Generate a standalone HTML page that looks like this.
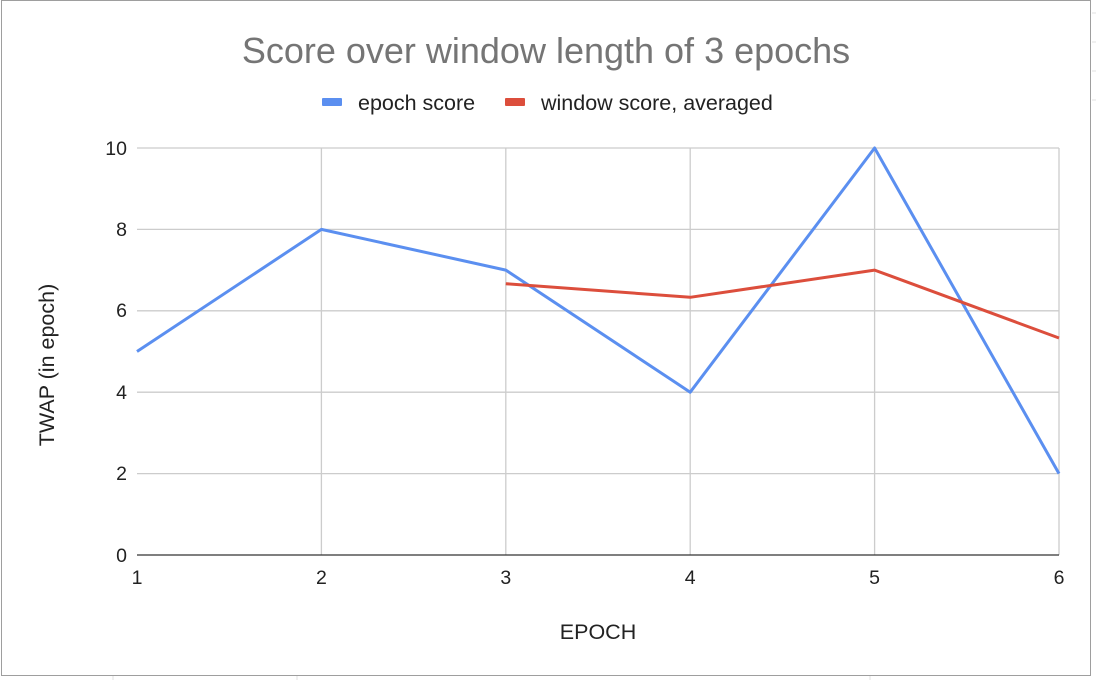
<!DOCTYPE html>
<html><head><style>
body{margin:0;width:1096px;height:680px;background:#fff;overflow:hidden}
svg{display:block}
text{font-family:"Liberation Sans",Arial,sans-serif}
</style></head><body>
<svg width="1096" height="680" viewBox="0 0 1096 680">
<rect x="0" y="0" width="1096" height="680" fill="#fff"/>
<g stroke="#e0e0e0" stroke-width="1">
<line x1="1092" y1="13" x2="1096" y2="13"/><line x1="1092" y1="42" x2="1096" y2="42"/>
<line x1="1092" y1="71" x2="1096" y2="71"/><line x1="1092" y1="100" x2="1096" y2="100"/>
<line x1="113" y1="676" x2="113" y2="680"/><line x1="297" y1="676" x2="297" y2="680"/>
<line x1="870" y1="676" x2="870" y2="680"/>
</g>
<rect x="1.5" y="0.5" width="1089" height="675" fill="#fff" stroke="#9e9e9e" stroke-width="1"/>
<text x="546" y="63" text-anchor="middle" font-size="36" fill="#757575">Score over window length of 3 epochs</text>
<rect x="322" y="98" width="20" height="8" rx="1" fill="#5b8ff0"/>
<text x="358" y="110" font-size="21.5" fill="#222">epoch score</text>
<rect x="505" y="98" width="20" height="8" rx="1" fill="#dc4e3c"/>
<text x="541" y="110" font-size="21.5" fill="#222">window score, averaged</text>
<g stroke="#cccccc" stroke-width="1.3">
<line x1="137" y1="148" x2="1059" y2="148"/>
<line x1="137" y1="229.4" x2="1059" y2="229.4"/>
<line x1="137" y1="310.8" x2="1059" y2="310.8"/>
<line x1="137" y1="392.2" x2="1059" y2="392.2"/>
<line x1="137" y1="473.6" x2="1059" y2="473.6"/>
<line x1="321.4" y1="148" x2="321.4" y2="555"/>
<line x1="505.8" y1="148" x2="505.8" y2="555"/>
<line x1="690.2" y1="148" x2="690.2" y2="555"/>
<line x1="874.6" y1="148" x2="874.6" y2="555"/>
<line x1="1059" y1="148" x2="1059" y2="555"/>
</g>
<line x1="137" y1="555" x2="1059" y2="555" stroke="#333" stroke-width="1.3"/>
<g font-size="19.5" fill="#222" text-anchor="end">
<text x="127" y="155">10</text><text x="127" y="236">8</text><text x="127" y="317">6</text>
<text x="127" y="399">4</text><text x="127" y="480">2</text><text x="127" y="562">0</text>
</g>
<g font-size="19.5" fill="#222" text-anchor="middle">
<text x="137" y="584">1</text><text x="321.4" y="584">2</text><text x="505.8" y="584">3</text>
<text x="690.2" y="584">4</text><text x="874.6" y="584">5</text><text x="1059" y="584">6</text>
</g>
<text x="598" y="639" text-anchor="middle" font-size="21.5" fill="#222">EPOCH</text>
<text transform="translate(54,365) rotate(-90)" text-anchor="middle" font-size="21.5" fill="#222">TWAP (in epoch)</text>
<polyline fill="none" stroke="#5b8ff0" stroke-width="3" stroke-linejoin="round" points="137,351.5 321.4,229.4 505.8,270.1 690.2,392.2 874.6,148 1059,473.6"/>
<polyline fill="none" stroke="#dc4e3c" stroke-width="3" stroke-linejoin="round" points="505.8,283.7 690.2,297.3 874.6,270.1 1059,338"/>
</svg>
</body></html>
